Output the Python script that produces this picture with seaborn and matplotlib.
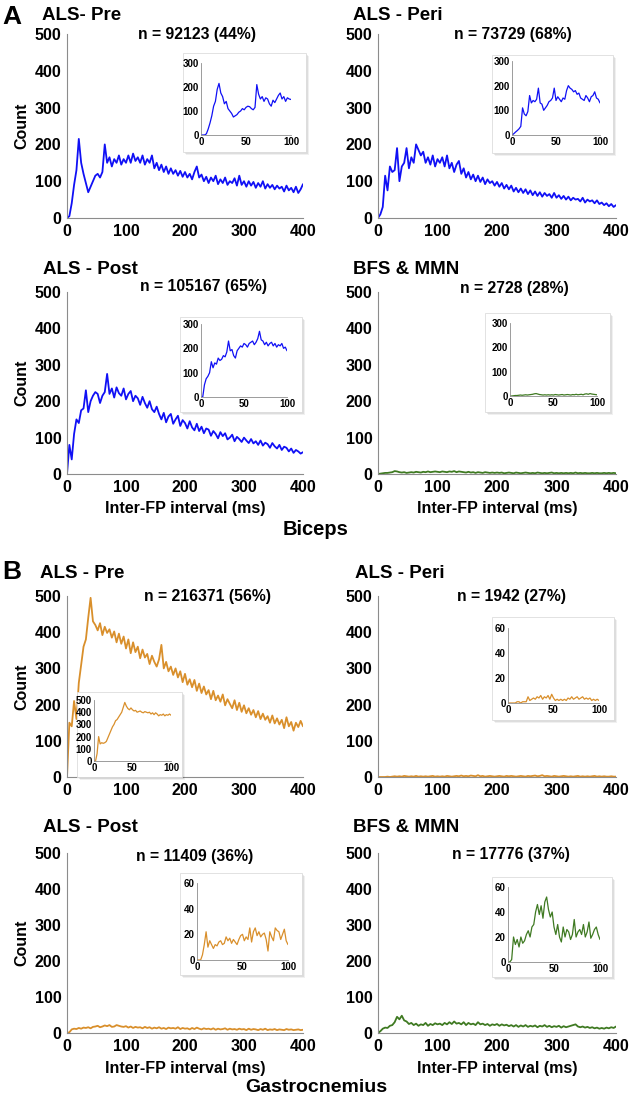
import numpy as np
import matplotlib
matplotlib.use("Agg")
import matplotlib.pyplot as plt
import seaborn as sns
from matplotlib.patches import Rectangle

sns.set_theme(style="white")
plt.rcParams['font.family'] = ['Liberation Sans', 'DejaVu Sans']
plt.rcParams['font.weight'] = 'bold'
plt.rcParams['text.color'] = 'black'
plt.rcParams['axes.labelcolor'] = 'black'
plt.rcParams['xtick.color'] = 'black'
plt.rcParams['ytick.color'] = 'black'

# ---------------- data (main histograms: 4 ms bins from 0 to 400 ms) ----------------
STEP_MAIN = 4
STEP_INSET = 2

a_pre = [0, 5, 40, 90, 130, 215, 150, 120, 95, 70, 85, 100, 115, 120, 110, 125, 200, 150, 165, 140,
         160, 150, 170, 145, 160, 150, 170, 150, 175, 155, 165, 150, 170, 145, 160, 150, 170, 135, 150, 130,
         145, 125, 140, 120, 135, 120, 130, 115, 128, 112, 125, 110, 120, 105, 125, 140, 110, 118, 100, 112,
         95, 110, 100, 115, 92, 105, 95, 110, 90, 100, 95, 108, 88, 115, 90, 100, 85, 100, 88, 98,
         82, 95, 85, 100, 80, 92, 82, 90, 78, 88, 80, 85, 72, 88, 75, 82, 70, 85, 68, 78, 92]
a_peri = [0, 10, 30, 115, 75, 140, 125, 130, 190, 100, 140, 150, 190, 135, 165, 150, 200, 185, 170, 180,
          150, 165, 145, 170, 140, 160, 150, 165, 140, 170, 135, 150, 125, 145, 155, 120, 135, 110, 125, 105,
          118, 100, 115, 98, 110, 92, 105, 95, 100, 88, 98, 85, 95, 80, 90, 78, 88, 72, 82, 70,
          80, 68, 78, 65, 75, 62, 72, 60, 70, 58, 68, 60, 65, 55, 68, 55, 62, 52, 60, 50,
          58, 48, 55, 50, 52, 45, 55, 42, 50, 45, 48, 40, 48, 38, 42, 35, 40, 32, 38, 30, 35]
a_post = [0, 80, 40, 110, 150, 140, 175, 180, 230, 170, 200, 215, 225, 220, 195, 215, 225, 275,
          220, 235, 210, 238, 222, 215, 235, 205, 220, 228, 200, 215, 208, 190, 212, 195, 182, 200,
          178, 170, 185, 165,
          150, 168, 142, 158, 165, 138, 150, 160, 132, 148, 140, 125, 145, 128, 120, 138, 118, 130, 112, 125,
          122, 105, 118, 110, 98, 115, 104, 112, 95, 100, 108, 90, 102, 96, 88, 100, 92, 85, 96, 84,
          90, 80, 92, 78, 86, 82, 72, 85, 76, 70, 80, 66, 75, 72, 62, 70, 58, 66, 62, 56, 60]
a_bfs = [0, 1, 2, 3, 3, 4, 5, 8, 7, 5, 4, 5, 3, 4, 5, 4, 6, 5, 4, 6,
         5, 7, 5, 6, 7, 6, 5, 7, 6, 5, 7, 6, 8, 5, 7, 6, 5, 4, 6, 4,
         5, 3, 5, 4, 3, 5, 4, 3, 4, 3, 4, 3, 4, 2, 3, 4, 3, 2, 4, 3,
         2, 3, 4, 3, 2, 3, 2, 4, 3, 2, 3, 2, 3, 4, 2, 3, 2, 3, 2, 3,
         2, 3, 2, 4, 2, 3, 2, 3, 2, 2, 3, 2, 3, 2, 2, 3, 2, 3, 2, 3, 2]

b_pre = [0, 150, 140, 210, 160, 260, 310, 360, 380, 440, 495,
         430, 420, 405, 425, 392, 415, 398, 408, 385, 402, 372, 396, 368, 388, 355, 380, 342, 372, 345, 360,
         328, 352, 330, 340, 312, 335, 318, 305, 325, 365, 300, 318, 292, 305, 282, 300, 275, 292, 262, 285,
         255, 270, 248, 268, 238, 258, 232, 250, 228, 240, 215, 238, 212, 225, 208, 228, 198, 215, 202, 190,
         212, 185, 205, 180, 198, 176, 190, 172, 185, 165, 182, 160, 175, 158, 168, 150, 170, 148, 162, 145,
         158, 135, 165, 140, 152, 128, 150, 138, 155, 140]
b_peri = [0, 0, 0, 0, 1, 0, 1, 2, 1, 2, 1, 3, 2, 1, 2, 1, 3, 1, 2, 1,
          2, 1, 2, 3, 1, 2, 1, 2, 1, 3, 2, 1, 2, 3, 2, 4, 2, 3, 2, 4,
          3, 2, 5, 2, 3, 1, 2, 3, 2, 1, 2, 3, 2, 1, 3, 2, 3, 2, 1, 2,
          3, 2, 1, 3, 2, 3, 4, 2, 3, 5, 2, 3, 2, 1, 3, 2, 1, 2, 3, 2,
          1, 2, 1, 2, 3, 1, 2, 1, 2, 1, 2, 3, 1, 2, 1, 2, 1, 1, 2, 1, 1]
b_post = [0, 2, 10, 12, 11, 14, 12, 15, 14, 16, 13, 17, 18, 20, 16, 18, 21, 19, 22, 17,
          18, 22, 20, 18, 17, 19, 15, 18, 14, 17, 15, 16, 13, 17, 14, 16, 12, 15, 13, 16,
          12, 14, 11, 15, 13, 14, 12, 16, 11, 14, 12, 13, 10, 14, 11, 15, 12, 10, 13, 11,
          12, 10, 13, 9, 12, 10, 11, 13, 9, 12, 10, 11, 9, 12, 10, 11, 8, 12, 9, 11,
          10, 8, 11, 9, 12, 8, 10, 9, 11, 8, 10, 9, 8, 11, 9, 10, 8, 9, 10, 8, 9]
b_bfs = [0, 5, 12, 15, 14, 20, 22, 30, 45, 38, 48, 35, 32, 25, 28, 22, 26, 20, 24, 22,
         28, 20, 25, 22, 27, 24, 26, 22, 28, 24, 30, 25, 32, 26, 28, 24, 30, 22, 28, 24,
         26, 22, 30, 24, 26, 22, 25, 20, 24, 22, 25, 20, 24, 21, 23, 19, 22, 18, 22, 17,
         21, 18, 22, 17, 20, 18, 21, 16, 20, 18, 22, 17, 20, 16, 19, 17, 20, 15, 19, 16,
         18, 20, 22, 24, 18, 16, 18, 15, 17, 14, 16, 13, 15, 12, 14, 12, 15, 13, 16, 14, 18]

# ---------------- inset data (2 ms bins from 0 to 100 ms) ----------------
ia_pre = [0, 0, 0, 5, 25, 50, 80, 120, 140, 190, 215, 175, 160, 130, 140, 110, 100, 90, 75, 80,
          85, 95, 100, 110, 105, 115, 120, 118, 110, 105, 115, 210, 170, 150, 160, 140, 155, 150, 130, 120,
          145, 135, 150, 165, 175, 150, 160, 140, 155, 150, 148]
ia_peri = [0, 5, 12, 18, 25, 35, 110, 85, 78, 95, 160, 130, 140, 135, 145, 190, 130, 125, 100, 110,
           120, 135, 140, 150, 190, 140, 155, 145, 135, 150, 145, 180, 200, 190, 185, 175, 180, 165, 170, 150,
           145, 140, 160, 150, 135, 155, 160, 175, 150, 145, 130]
ia_post = [0, 0, 50, 75, 85, 100, 145, 120, 140, 135, 160, 150, 155, 170, 165, 185, 230, 190, 195, 170,
           160, 190, 200, 210, 205, 220, 215, 205, 220, 225, 230, 215, 225, 240, 270, 235, 230, 215, 225, 210,
           220, 225, 210, 220, 205, 215, 210, 220, 200, 205, 190]
ia_bfs = [0, 0, 1, 2, 2, 3, 4, 3, 4, 5, 4, 5, 6, 7, 9, 10, 8, 6, 5, 4,
          5, 4, 5, 4, 5, 4, 6, 5, 4, 5, 6, 4, 5, 6, 5, 4, 6, 5, 7, 5,
          6, 7, 5, 8, 9, 7, 10, 8, 7, 6, 5]
ib_pre = [0, 0, 60, 200, 140, 150, 145, 150, 160, 190, 220, 250, 280, 300, 330, 340, 360, 380, 400, 440,
          480, 450, 430, 420, 435, 420, 410, 415, 400, 405, 410, 400, 395, 405, 400, 395, 400, 385, 395, 380,
          395, 385, 370, 380, 375, 385, 370, 380, 375, 385, 375]
ib_peri = [0, 0, 0, 0, 0, 1, 1, 0, 1, 1, 1, 5, 2, 3, 4, 3, 5, 4, 6, 3,
           5, 4, 6, 3, 7, 4, 2, 3, 2, 3, 2, 3, 2, 4, 3, 5, 3, 4, 5, 3,
           4, 5, 3, 4, 3, 4, 2, 3, 2, 3, 2]
ib_post = [0, 0, 0, 4, 12, 22, 10, 15, 12, 9, 12, 11, 14, 15, 12, 13, 18, 15, 17, 13,
           16, 14, 12, 16, 19, 20, 15, 18, 16, 25, 14, 22, 25, 19, 22, 18, 20, 21, 16, 7,
           22, 18, 15, 25, 23, 22, 16, 20, 24, 15, 12]
ib_bfs = [0, 0, 2, 20, 14, 18, 12, 20, 15, 17, 22, 25, 20, 28, 30, 40, 46, 38, 45, 35,
          48, 52, 42, 36, 40, 28, 22, 30, 20, 16, 28, 20, 26, 24, 18, 22, 34, 20, 24, 26,
          22, 30, 20, 24, 32, 19, 22, 26, 28, 22, 18]

titles = ["ALS- Pre", "ALS - Peri", "ALS - Post", "BFS & MMN",
          "ALS - Pre", "ALS - Peri", "ALS - Post", "BFS & MMN"]
n_labels = ["n = 92123 (44%)", "n = 73729 (68%)", "n = 105167 (65%)", "n = 2728 (28%)",
            "n = 216371 (56%)", "n = 1942 (27%)", "n = 11409 (36%)", "n = 17776 (37%)"]
main_ticks_y = [0, 100, 200, 300, 400, 500]
main_ticks_x = [0, 100, 200, 300, 400]
inset_ticks_x = [0, 50, 100]
inset_ylims = [300, 300, 300, 300, 500, 60, 60, 60]
inset_ticks_y = [[0, 100, 200, 300]] * 4 + [[0, 100, 200, 300, 400, 500], [0, 20, 40, 60],
                                            [0, 20, 40, 60], [0, 20, 40, 60]]

BLUE = "#1010f5"
ORANGE = "#d98f2b"
GREEN = "#3f7a22"
colors = [BLUE, BLUE, BLUE, GREEN, ORANGE, ORANGE, ORANGE, GREEN]
mains = [a_pre, a_peri, a_post, a_bfs, b_pre, b_peri, b_post, b_bfs]
insets = [ia_pre, ia_peri, ia_post, ia_bfs, ib_pre, ib_peri, ib_post, ib_bfs]

# ---------------- layout (pixel boxes: x0, y0, x1, y1) ----------------
W, H = 633, 1105
fig = plt.figure(figsize=(W / 100, H / 100), dpi=100)


def fr(x0, y0, x1, y1):
    return [x0 / W, 1 - y1 / H, (x1 - x0) / W, (y1 - y0) / H]


main_boxes = [(67, 34, 303, 218), (378, 34, 616, 218), (67, 292, 303, 474), (378, 292, 616, 474),
              (67, 596, 303, 777), (378, 596, 616, 777), (67, 853, 303, 1033), (378, 853, 616, 1033)]
inset_boxes = [(201, 63, 291, 135), (512, 61, 600, 135), (201, 324, 287, 397), (510, 323, 597, 396),
               (94, 700, 171, 761), (508, 628, 599, 703), (197, 883, 288, 960), (508, 887, 600, 962)]
frame_boxes = [(183, 53, 306, 152), (492, 55, 613, 153), (180, 317, 302, 412), (485, 313, 610, 412),
               (77, 692, 182, 777), (492, 617, 614, 720), (180, 873, 302, 975), (492, 877, 612, 977)]
title_pos = [(42, 15), (353, 15), (43, 270), (353, 270), (40, 573), (355, 573), (43, 828), (353, 828)]
n_pos = [(197, 35), (513, 35), (203, 287), (514, 288), (207, 597), (511, 596), (195, 857), (511, 855)]

GRAY = "#8c8c8c"

for i in range(8):
    ax = fig.add_axes(fr(*main_boxes[i]))
    y = np.array(mains[i], dtype=float)
    x = np.arange(len(y)) * STEP_MAIN
    sns.lineplot(x=x, y=y, ax=ax, color=colors[i], linewidth=1.3)
    ax.set_xlim(0, 400)
    ax.set_ylim(0, 500)
    ax.set_xticks(main_ticks_x)
    ax.set_yticks(main_ticks_y)
    ax.tick_params(length=0, pad=4, labelsize=11.5, colors='black')
    for lab in ax.get_xticklabels() + ax.get_yticklabels():
        lab.set_fontweight('bold')
    for s in ['top', 'right']:
        ax.spines[s].set_visible(False)
    for s in ['left', 'bottom']:
        ax.spines[s].set_color(GRAY)
        ax.spines[s].set_linewidth(0.8)
    ax.set_xlabel("")
    ax.set_ylabel("")
    ax.patch.set_alpha(0)
    if i % 2 == 0:
        ax.set_ylabel("Count", fontsize=11.5, fontweight='bold', labelpad=4)
    if i in (2, 3, 6, 7):
        ax.set_xlabel("Inter-FP interval (ms)", fontsize=11.5, fontweight='bold', labelpad=5)

    # inset frame with soft shadow
    fx0, fy0, fx1, fy1 = frame_boxes[i]
    for k, a in enumerate([0.06, 0.08, 0.1]):
        off = 3 - k
        fig.patches.append(Rectangle(((fx0 + off) / W, 1 - (fy1 + off) / H),
                                     (fx1 - fx0) / W, (fy1 - fy0) / H,
                                     transform=fig.transFigure, facecolor='black',
                                     edgecolor='none', alpha=a, zorder=1.5))
    fig.patches.append(Rectangle((fx0 / W, 1 - fy1 / H), (fx1 - fx0) / W, (fy1 - fy0) / H,
                                 transform=fig.transFigure, facecolor='white',
                                 edgecolor='#dddddd', linewidth=0.6, zorder=1.6))

    iax = fig.add_axes(fr(*inset_boxes[i]))
    iax.set_zorder(3)
    iy = np.array(insets[i], dtype=float)
    ix = np.arange(len(iy)) * STEP_INSET
    sns.lineplot(x=ix, y=iy, ax=iax, color=colors[i], linewidth=0.9)
    iax.set_xlim(0, 100)
    iax.set_ylim(0, inset_ylims[i])
    iax.set_xticks(inset_ticks_x)
    iax.set_yticks(inset_ticks_y[i])
    iax.tick_params(length=1.5, width=0.5, direction='in', pad=1.5, labelsize=7, colors='black')
    for lab in iax.get_xticklabels() + iax.get_yticklabels():
        lab.set_fontweight('bold')
    for s in ['top', 'right']:
        iax.spines[s].set_visible(False)
    for s in ['left', 'bottom']:
        iax.spines[s].set_color(GRAY)
        iax.spines[s].set_linewidth(0.6)
    iax.set_xlabel("")
    iax.set_ylabel("")
    iax.patch.set_alpha(0)

    tx, ty = title_pos[i]
    fig.text(tx / W, 1 - ty / H, titles[i], fontsize=13.5, fontweight='bold', ha='left', va='center')
    nx, ny = n_pos[i]
    fig.text(nx / W, 1 - ny / H, n_labels[i], fontsize=11.3, fontweight='bold', ha='center', va='center')

fig.text(12 / W, 1 - 17 / H, "A", fontsize=19, fontweight='bold', ha='center', va='center')
fig.text(12 / W, 1 - 572 / H, "B", fontsize=19, fontweight='bold', ha='center', va='center')
fig.text(316 / W, 1 - 529 / H, "Biceps", fontsize=14.5, fontweight='bold', ha='center', va='center')
fig.text(316 / W, 1 - 1087 / H, "Gastrocnemius", fontsize=14, fontweight='bold', ha='center', va='center')

fig.savefig("out.png", dpi=100, facecolor='white')
